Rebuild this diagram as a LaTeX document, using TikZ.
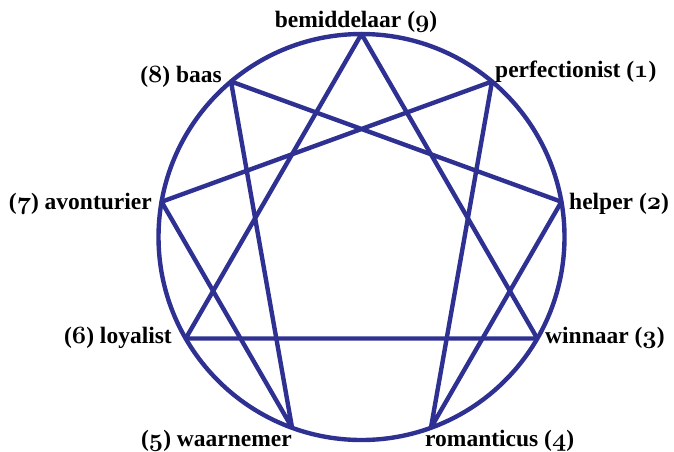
\documentclass[tikz,border=0pt]{standalone}
\usepackage{fontspec}
\setmainfont{Liberation Serif}
\usetikzlibrary{calc}
\definecolor{ennblue}{RGB}{46,49,146}
\newcommand{\osn}[1]{{\usefont{OML}{cmm}{b}{it}#1}}
\begin{document}
\begin{tikzpicture}[x=1pt,y=-1pt,
  enn/.style={draw=ennblue,line width=4.4pt,line join=round,line cap=round},
  lab/.style={font=\fontsize{23.5}{26}\selectfont\bfseries,inner sep=0pt,text=black}]
\useasboundingbox (0,0) rectangle (674,451);
\def\r{203}
\coordinate (c) at (361.5,237);
\foreach \k in {0,...,8}{
  \coordinate (p\k) at ($(c)+({\r*sin(40*\k)},{-\r*cos(40*\k)})$);
}
\draw[enn] (c) circle (\r);
\draw[enn] (p0) -- (p3) -- (p6) -- cycle;
\draw[enn] (p1) -- (p4) -- (p2) -- (p8) -- (p5) -- (p7) -- cycle;
\node[lab,anchor=base] (l9) at (356,27) {bemiddelaar (\osn{9})};
\node[lab,anchor=base east] (l8) at (222,82) {(\osn{8}) baas};
\node[lab,anchor=base west] (l1) at (495,77) {perfectionist (\osn{1})};
\node[lab,anchor=base east] (l7) at (152,209) {(\osn{7}) avonturier};
\node[lab,anchor=base west] (l2) at (569,209) {helper (\osn{2})};
\node[lab,anchor=base east] (l6) at (172,343) {(\osn{6}) loyalist};
\node[lab,anchor=base west] (l3) at (545,343) {winnaar (\osn{3})};
\node[lab,anchor=base east] (l5) at (292,446) {(\osn{5}) waarnemer};
\node[lab,anchor=base west] (l4) at (425,446) {romanticus (\osn{4})};
\end{tikzpicture}
\end{document}
